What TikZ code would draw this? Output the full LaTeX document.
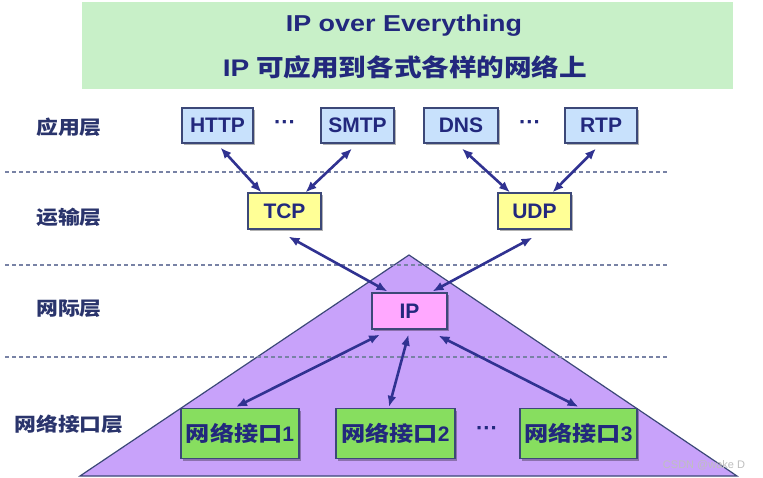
\documentclass[tikz,border=0pt]{standalone}
\usepackage{fontspec}
\setmainfont{Liberation Sans}
\newfontfamily\titlelat{Liberation Sans Bold}[FakeStretch=1.17]
\newfontfamily\cjk{Noto Sans CJK SC}[FakeStretch=1.15]
\usetikzlibrary{shadows,arrows.meta,calc}
\definecolor{navy}{RGB}{34,40,125}
\definecolor{labelc}{RGB}{42,52,108}
\definecolor{arrowc}{RGB}{48,50,145}
\definecolor{titlegreen}{RGB}{200,240,200}
\definecolor{appblue}{RGB}{200,225,252}
\definecolor{tpyellow}{RGB}{255,255,150}
\definecolor{ippink}{RGB}{255,168,255}
\definecolor{tripurple}{RGB}{200,162,250}
\definecolor{netgreen}{RGB}{135,222,95}
\definecolor{boxborder}{RGB}{60,72,120}
\definecolor{dashc}{RGB}{120,130,165}
\tikzset{
  box/.style={draw=boxborder, line width=1.2pt, inner sep=0pt, text=navy,
    font=\bfseries\fontsize{21}{24}\selectfont,
    drop shadow={shadow xshift=2pt, shadow yshift=-2pt, fill=black, opacity=0.3}},
  appbox/.style={box, fill=appblue, minimum height=35pt},
  tpbox/.style={box, fill=tpyellow, minimum width=73pt, minimum height=36pt},
  ipbox/.style={box, fill=ippink, minimum width=75pt, minimum height=36pt},
  netbox/.style={box, fill=netgreen, minimum height=50pt},
  layer/.style={text=labelc, inner sep=0pt, font=\cjk\bfseries\fontsize{19}{22}\selectfont},
  sep/.style={draw=dashc, line width=1.8pt, dash pattern=on 4pt off 3pt},
  link/.style={draw=arrowc, line width=2.6pt, {Latex[length=11pt,width=9pt]}-{Latex[length=11pt,width=9pt]}},
  dots/.style={text=navy, inner sep=0pt, font=\bfseries\fontsize{22}{24}\selectfont}
}
\begin{document}
\begin{tikzpicture}[x=1pt,y=-1pt]
\useasboundingbox (0,0) rectangle (763,478);
\fill[white] (0,0) rectangle (763,478);
% title
\node[fill=titlegreen, minimum width=651pt, minimum height=87pt, inner sep=0pt] (title) at (407.5,45.5) {};
\node[text=navy, inner sep=0pt, font=\titlelat\fontsize{23}{26}\selectfont] (t1) at (404,26) {IP over Everything};
\node[text=navy, inner sep=0pt, font=\bfseries\fontsize{24}{26}\selectfont] (t2) at (405,67) {{\titlelat IP} {\cjk\bfseries 可应用到各式各样的网络上}};
% triangle
\filldraw[fill=tripurple, draw=boxborder, line width=1.2pt] (409,255) -- (737,476) -- (80,476) -- cycle;
% dashed separators
\coordinate (s1a) at (5,172); \coordinate (s1b) at (668,172);
\coordinate (s2a) at (5,265); \coordinate (s2b) at (668,265);
\coordinate (s3a) at (5,357); \coordinate (s3b) at (668,357);
\draw[sep] (s1a) -- (s1b);
\draw[sep] (s2a) -- (s2b);
\draw[sep] (s3a) -- (s3b);
% layer labels
\node[layer] (l1) at (69,127) {应用层};
\node[layer] (l2) at (69,217) {运输层};
\node[layer] (l3) at (69,309) {网际层};
\node[layer] (l4) at (69,424) {网络接口层};
% application boxes
\node[appbox, minimum width=71pt] (http) at (217.5,125.5) {HTTP};
\node[dots] (d1) at (285,125) {···};
\node[appbox, minimum width=73pt] (smtp) at (357.5,125.5) {SMTP};
\node[appbox, minimum width=74pt] (dns) at (461,125.5) {DNS};
\node[dots] (d2) at (530,125) {···};
\node[appbox, minimum width=72pt] (rtp) at (601,125.5) {RTP};
% transport
\node[tpbox] (tcp) at (284.5,211) {TCP};
\node[tpbox] (udp) at (534.5,211) {UDP};
% ip
\node[ipbox] (ip) at (409.5,311) {IP};
% network interfaces
\node[netbox, minimum width=118pt] (n1) at (240,433.5) {{\cjk\bfseries 网络接口}1};
\node[netbox, minimum width=119pt] (n2) at (395.5,433.5) {{\cjk\bfseries 网络接口}2};
\node[dots] (d3) at (487,431) {···};
\node[netbox, minimum width=117pt] (n3) at (578.5,433.5) {{\cjk\bfseries 网络接口}3};
% links
\draw[link] ($(http.south)+(3,4)$) -- ($(tcp.north)+(-23,0)$);
\draw[link] ($(smtp.south)+(-5.5,5)$) -- ($(tcp.north)+(21,0)$);
\draw[link] ($(dns.south)+(1,5)$) -- ($(udp.north)+(-24.5,0)$);
\draw[link] ($(rtp.south)+(-5,5)$) -- ($(udp.north)+(18,0)$);
\draw[link] ($(tcp.south)+(4,7)$) -- ($(ip.north)+(-22,-1)$);
\draw[link] ($(udp.south)+(-2,8)$) -- ($(ip.north)+(23,-1)$);
\draw[link] ($(ip.south)+(-29.5,5)$) -- ($(n1.north)+(-4,-1)$);
\draw[link] ($(ip.south)+(-1,5)$) -- ($(n2.north)+(-6.5,-1)$);
\draw[link] ($(ip.south)+(29,6)$) -- ($(n3.north)+(0,-1)$);
% watermark
\node[text=gray!50, inner sep=0pt, font=\fontsize{11}{12}\selectfont] (wm) at (704,465) {CSDN @wake D};
\end{tikzpicture}
\end{document}
